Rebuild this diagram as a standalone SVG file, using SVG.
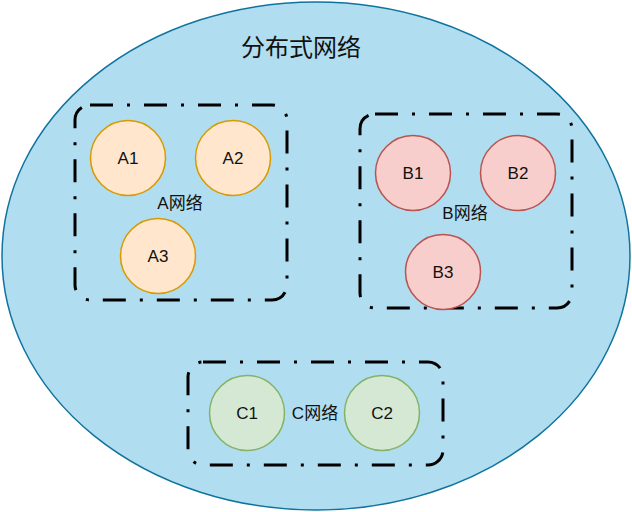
<svg xmlns="http://www.w3.org/2000/svg" width="632" height="512" viewBox="0 0 632 512">
<style>
text{font-family:"Liberation Sans","Noto Sans CJK SC",sans-serif;fill:#111;text-anchor:middle;dominant-baseline:central}
.lbl{font-size:17px}
.title{font-size:24px}
.grp{fill:none;stroke:#000;stroke-width:3;stroke-dasharray:23 14 3 14}
.a{fill:#ffe6cc;stroke:#d79b00;stroke-width:1.5}
.b{fill:#f8cecc;stroke:#b85450;stroke-width:1.5}
.c{fill:#d5e8d4;stroke:#82b366;stroke-width:1.5}
</style>
<rect width="632" height="512" fill="#fff"/>
<g id="net">
<ellipse cx="316" cy="256" rx="314" ry="254" fill="#b1ddf0" stroke="#10739e" stroke-width="1.5"/>
<text class="title" x="301" y="47">分布式网络</text>
</g>
<g id="groupA">
<rect class="grp" x="75" y="105" width="212" height="195" rx="15"/>
<text class="lbl" x="180" y="203">A网络</text>
</g>
<g id="groupB">
<rect class="grp" x="360" y="114" width="212" height="194" rx="15"/>
<text class="lbl" x="465" y="213">B网络</text>
</g>
<g id="groupC">
<rect class="grp" x="188" y="362" width="255" height="103" rx="15"/>
<text class="lbl" x="315" y="413">C网络</text>
</g>
<g id="A1"><circle class="a" cx="128" cy="158" r="37.5"/><text class="lbl" x="128" y="158">A1</text></g>
<g id="A2"><circle class="a" cx="233" cy="158" r="37.5"/><text class="lbl" x="233" y="158">A2</text></g>
<g id="A3"><circle class="a" cx="158" cy="256" r="37.5"/><text class="lbl" x="158" y="256">A3</text></g>
<g id="B1"><circle class="b" cx="413" cy="173" r="37.5"/><text class="lbl" x="413" y="173">B1</text></g>
<g id="B2"><circle class="b" cx="518" cy="173" r="37.5"/><text class="lbl" x="518" y="173">B2</text></g>
<g id="B3"><circle class="b" cx="443" cy="272" r="37.5"/><text class="lbl" x="443" y="272">B3</text></g>
<g id="C1"><circle class="c" cx="247" cy="413" r="37.5"/><text class="lbl" x="247" y="413">C1</text></g>
<g id="C2"><circle class="c" cx="382" cy="413" r="37.5"/><text class="lbl" x="382" y="413">C2</text></g>
<g id="connectors"></g>
</svg>
